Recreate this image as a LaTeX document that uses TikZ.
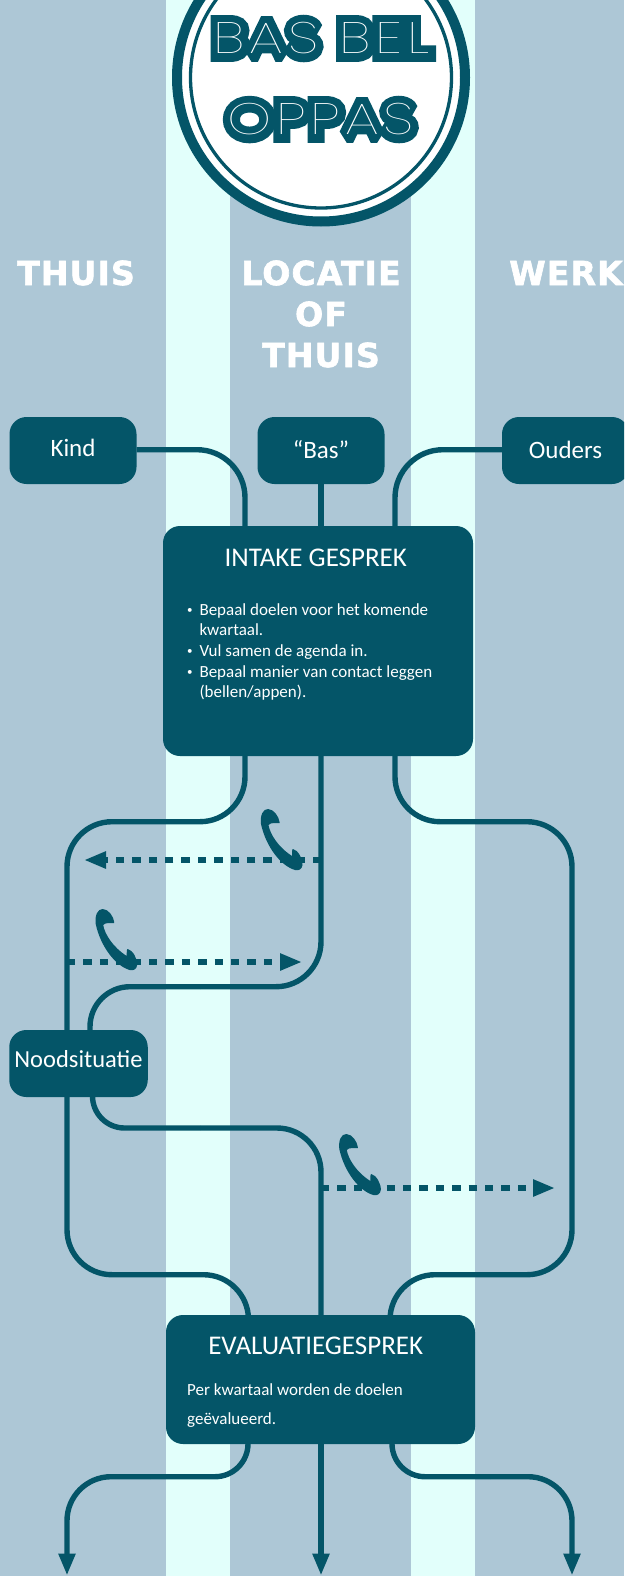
\documentclass[tikz,border=0pt]{standalone}
\usepackage{fontspec}
\setmainfont{Carlito}
\newfontfamily\logofat[FakeBold=36,FakeStretch=1.27,LetterSpace=11]{Poppins Thin}
\newfontfamily\logoline[FakeStretch=1.27,LetterSpace=11]{Poppins Thin}
\newfontfamily\headfont[FakeBold=2,LetterSpace=3.5]{DejaVu Sans Bold}
\usetikzlibrary{positioning,arrows.meta}
\definecolor{petrol}{HTML}{045568}
\definecolor{mist}{HTML}{ADC7D6}
\definecolor{icy}{HTML}{E2FFFB}
\newcommand{\bul}{\makebox[12.3pt][l]{\raisebox{1.5pt}{\fontsize{11}{11}\selectfont\textbullet}}}
\newcommand{\ind}{\hspace*{12.3pt}}
\tikzset{
  pics/phone/.style={code={
    \fill[petrol] (7,0) .. controls (13,0) and (18,8) .. (18.5,13) -- (18.5,14)
      .. controls (15,14.5) and (10,13) .. (7.5,16)
      .. controls (9,25) and (17,38) .. (31,47)
      .. controls (31,43) and (31,40) .. (32,40)
      .. controls (37,41) and (42,50) .. (41.5,56)
      .. controls (41,60) and (38,62) .. (34,61)
      .. controls (20,57) and (5,38) .. (0,15)
      .. controls (-1,6) and (2,0) .. (7,0) -- cycle;
  }}
}
\begin{document}
\begin{tikzpicture}[x=1pt, y=-1pt, >=Latex,
    box/.style={fill=petrol, rounded corners=17pt, text=white, inner sep=0pt, text depth=0pt, font=\fontsize{25}{25}\selectfont},
    logofat/.style={anchor=base, text=petrol, font=\logofat\fontsize{44}{44}\selectfont},
    logoline/.style={anchor=base, text=white, font=\logoline\fontsize{44}{44}\selectfont},
    head/.style={text=white, anchor=base, font=\headfont\fontsize{33}{33}\selectfont},
    title/.style={text=white, anchor=base, inner sep=0pt, font=\fontsize{27}{27}\selectfont},
    bodytext/.style={text=white, anchor=north west, inner sep=0pt, align=left},
    link/.style={draw=petrol, line width=5.4pt},
    down/.style={link, -{Triangle[length=22pt,width=16pt]}},
    call/.style={down, dash pattern=on 8.4pt off 8pt}]
  \clip (0,0) rectangle (624,1576);
  \fill[mist] (0,0) rectangle (624,1576);
  \fill[icy] (166,0) rectangle (230,1576);
  \fill[icy] (411,0) rectangle (475,1576);

  % logo
  \node[circle, draw=petrol, fill=white, line width=10pt, minimum size=288pt] (logo) at (321,77.5) {};
  \node[circle, draw=petrol, line width=3.3pt, minimum size=261pt] (logoring) at (321,77.5) {};
  \node[logofat] (bas) at (321.5,54) {\special{pdf:code 1.6 M}BAS BEL};
  \node[logoline] (basline) at (321.5,54) {BAS BEL};
  \node[logofat] (oppas) at (320.5,135) {\special{pdf:code 1.6 M}OPPAS};
  \node[logoline] (oppasline) at (320.5,135) {OPPAS};

  % columns
  \node[head] (thuis) at (76,285) {THUIS};
  \node[head] (locatie) at (321,285) {LOCATIE};
  \node[head] (of) at (321,326) {OF};
  \node[head] (thuisb) at (321,367) {THUIS};
  \node[head] (werk) at (566,285) {WERK};

  % boxes
  \node[box, minimum width=127pt, minimum height=67pt, text height=12.4pt] (kind) at (73,450.5) {Kind};
  \node[box, minimum width=127pt, minimum height=67pt, text height=15pt] (bas2) at (321,450.5) {“Bas”};
  \node[box, minimum width=127pt, minimum height=67pt, text height=15pt] (ouders) at (565.5,450.5) {Ouders};
  \node[box, minimum width=310pt, minimum height=230pt] (intake) at (318,641) {};
  \node[title] (intaket) at (315.7,566) {INTAKE GESPREK};
  \node[bodytext, font=\fontsize{17}{20.7}\selectfont] (intakeb) at (187,603)
    {\bul Bepaal doelen voor het komende\\ \ind kwartaal.\\ \bul Vul samen de agenda in.\\ \bul Bepaal manier van contact leggen\\ \ind (bellen/appen).};
  \node[box, minimum width=138.5pt, minimum height=67pt, text height=8.4pt, font=\fontsize{24.5}{25}\selectfont] (nood) at (78.5,1063.5) {Noodsituatie};
  \node[box, minimum width=309pt, minimum height=129pt] (eval) at (320.5,1379.5) {};
  \node[title] (evalt) at (315.7,1354) {EVALUATIEGESPREK};
  \node[bodytext, font=\fontsize{17}{29}\selectfont] (evalb) at (187,1383)
    {Per kwartaal worden de doelen\\ geëvalueerd.};

  % ends on the box edges
  \coordinate (inL) at (245,526);
  \coordinate (inR) at (395,526);
  \coordinate (outL) at (245,756);
  \coordinate (outM) at (321,756);
  \coordinate (outR) at (395,756);
  \coordinate (noodT) at (90,1030);
  \coordinate (noodTL) at (67,1030);
  \coordinate (noodB) at (92.5,1097);
  \coordinate (noodBL) at (67,1097);
  \coordinate (evL) at (248.5,1315);
  \coordinate (evM) at (321,1315);
  \coordinate (evR) at (390,1315);
  \coordinate (exL) at (248,1444);
  \coordinate (exM) at (321,1444);
  \coordinate (exR) at (392,1444);
  \coordinate (backmid) at (200,986.7);
  \coordinate (noodmid) at (200,1128);
  \coordinate (exLmid) at (150,1476.7);
  \coordinate (exRmid) at (490,1476.7);

  \draw[link, rounded corners=48pt] (kind.east |- 0,449.7) -| (inL);
  \draw[link, rounded corners=48pt] (ouders.west |- 0,449.7) -| (inR);
  \draw[link] (bas2.south) -- (bas2.south |- inL);
  \draw[link, rounded corners=45pt] (outL) |- (67,821.7) -- (noodTL);
  \draw[link, rounded corners=45pt] (outR) |- (572,821.7) -- (572,1274.7) -- (evR |- 0,1274.7) -- (evR);
  \draw[link, rounded corners=45pt] (outM) |- (backmid);
  \draw[link, rounded corners=40pt] (backmid) -| (noodT);
  \draw[link, rounded corners=32pt] (noodB) |- (noodmid);
  \draw[link, rounded corners=44pt] (noodmid) -| (evM);
  \draw[link, rounded corners=45pt] (noodBL) -- (67,1274.7) -- (evL |- 0,1274.7) -- (evL);
  \draw[link, rounded corners=33pt] (exL) |- (exLmid);
  \draw[down, rounded corners=44pt] (exLmid) -| (67,1575.5);
  \draw[down] (exM) -- (321,1575.5);
  \draw[link, rounded corners=33pt] (exR) |- (exRmid);
  \draw[down, rounded corners=44pt] (exRmid) -| (572,1575.5);

  % calls
  \coordinate (callA) at (321,860);
  \coordinate (callAe) at (84,860);
  \coordinate (callB) at (67,962);
  \coordinate (callBe) at (302,962);
  \coordinate (callC) at (321,1188);
  \coordinate (callCe) at (555,1188);
  \draw[call] (callA) -- (callAe);
  \draw[call] (callB) -- (callBe);
  \draw[call] (callC) -- (callCe);
  \pic at (261,809) {phone};
  \pic at (95.7,909) {phone};
  \pic at (339.3,1134) {phone};
\end{tikzpicture}
\end{document}
